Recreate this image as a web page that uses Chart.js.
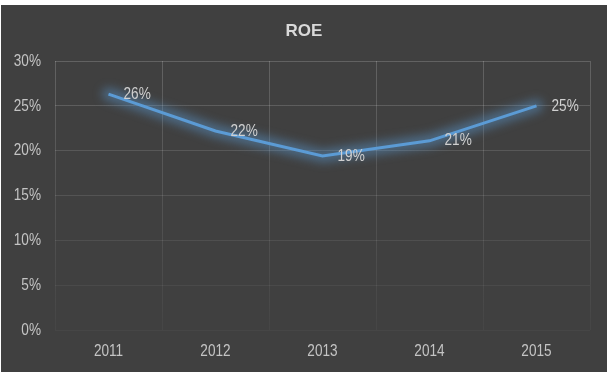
<!DOCTYPE html>
<html>
<head>
<meta charset="utf-8">
<script src="https://cdn.jsdelivr.net/npm/chart.js@4.4.1/dist/chart.umd.min.js"></script>
<style>
  html, body { margin: 0; padding: 0; background: #ffffff; }
  body { width: 613px; height: 377px; position: relative; overflow: hidden; }
  #box {
    position: absolute; left: 1px; top: 5px;
    width: 606px; height: 367px;
    background: #404040;
  }
</style>
</head>
<body>
<div id="box"><canvas id="roe"></canvas></div>
<script>
// ROE by year (in %)
var years = ['2011', '2012', '2013', '2014', '2015'];
var roeValues = [26.3, 22.2, 19.4, 21.1, 25.0];
var yTicks = [0, 5, 10, 15, 20, 25, 30];

// the reference uses a narrow face; no narrow font here, so squeeze Liberation Sans
var textFamily = '"Liberation Sans", Arial, sans-serif';
var textSize = 17;
var squeeze = 0.8;

function narrowText(c, text, x, y, align) {
    c.save();
    c.font = textSize + 'px ' + textFamily;
    c.textAlign = align;
    c.textBaseline = 'middle';
    c.scale(squeeze, 1);
    c.fillText(text, x / squeeze, y);
    c.restore();
}

// grid lines fade out towards the bottom of the plot
function gridColor(ctx) {
    var chart = ctx.chart;
    var area = chart.chartArea;
    if (!area) return 'rgba(255,255,255,0.15)';
    var g = chart.ctx.createLinearGradient(0, area.top, 0, area.bottom);
    g.addColorStop(0, 'rgba(255,255,255,0.18)');
    g.addColorStop(1, 'rgba(255,255,255,0.03)');
    return g;
}

// soft blue glow under the line: a wide blurred stroke along the line's points
var glowPlugin = {
    id: 'glow',
    beforeDatasetDraw: function (chart) {
        var c = chart.ctx;
        var pts = chart.getDatasetMeta(0).data;
        c.save();
        c.filter = 'blur(5px)';
        c.strokeStyle = 'rgba(91,155,213,0.45)';
        c.lineWidth = 13;
        c.lineJoin = 'round';
        c.lineCap = 'round';
        c.beginPath();
        pts.forEach(function (p, i) {
            if (i === 0) c.moveTo(p.x, p.y); else c.lineTo(p.x, p.y);
        });
        c.stroke();
        c.restore();
    }
};

// title, axis labels and value labels in the narrow face
var textPlugin = {
    id: 'texts',
    afterDraw: function (chart) {
        var c = chart.ctx;
        var xs = chart.scales.x;
        var ys = chart.scales.y;
        var area = chart.chartArea;

        c.save();
        c.fillStyle = '#d9d9d9';
        c.font = 'bold 17px ' + textFamily;
        c.textAlign = 'center';
        c.textBaseline = 'middle';
        c.fillText('ROE', chart.width / 2, 26);
        c.restore();

        c.fillStyle = '#c4c4c4';
        yTicks.forEach(function (v) {
            narrowText(c, v + '%', area.left - 14, ys.getPixelForValue(v), 'right');
        });
        years.forEach(function (y, i) {
            narrowText(c, y, xs.getPixelForValue(i), area.bottom + 21, 'center');
        });

        c.fillStyle = '#d0d0d0';
        chart.getDatasetMeta(0).data.forEach(function (pt, i) {
            narrowText(c, Math.round(roeValues[i]) + '%', pt.x + 15, pt.y, 'left');
        });
    }
};

var roeChart = new Chart(document.getElementById('roe').getContext('2d'), {
    type: 'line',
    data: {
        labels: years,
        datasets: [
            {
                label: 'ROE',
                data: roeValues,
                borderColor: '#5b9bd5',
                borderWidth: 3,
                pointRadius: 0,
                tension: 0,
                fill: false
            }
        ]
    },
    options: {
        responsive: true,
        maintainAspectRatio: false,
        animation: false,
        layout: { padding: { left: 0, right: 17, top: 56, bottom: 0 } },
        plugins: {
            legend: { display: false },
            tooltip: { enabled: false },
            title: { display: false }
        },
        scales: {
            x: {
                offset: true,
                grid: { offset: true, color: gridColor, drawTicks: false, lineWidth: 1 },
                border: { display: false },
                ticks: { display: false },
                afterFit: function (s) { s.height = 42; }
            },
            y: {
                min: yTicks[0],
                max: yTicks[yTicks.length - 1],
                grid: { color: gridColor, drawTicks: false, lineWidth: 1 },
                border: { display: false },
                ticks: { display: false, stepSize: 5 },
                afterFit: function (s) { s.width = 54; }
            }
        }
    },
    plugins: [glowPlugin, textPlugin]
});
</script>
</body>
</html>
